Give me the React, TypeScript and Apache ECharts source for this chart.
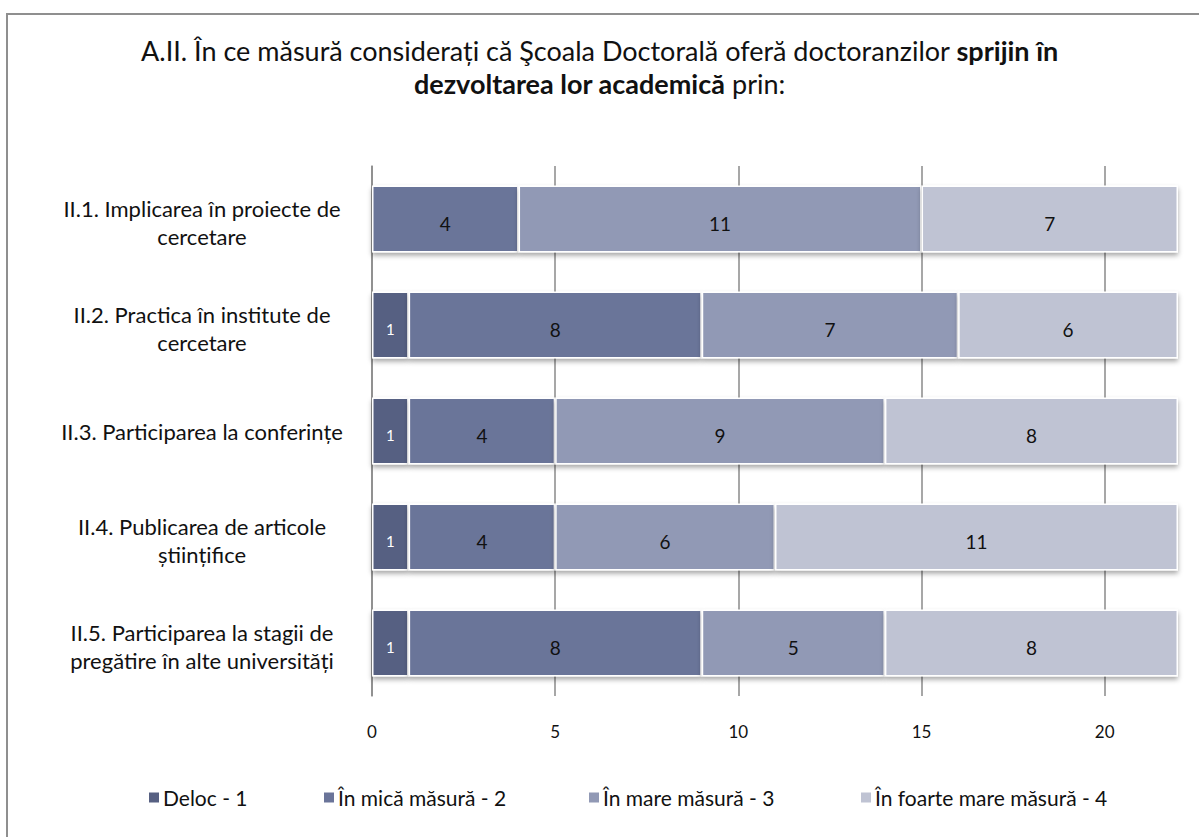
import React, { useEffect, useRef } from "react";
import * as echarts from "echarts";

const categories = [
  "II.1. Implicarea în proiecte de\ncercetare",
  "II.2. Practica în institute de\ncercetare",
  "II.3. Participarea la conferințe",
  "II.4. Publicarea de articole\nștiințifice",
  "II.5. Participarea la stagii de\npregătire în alte universități",
];
const seriesNames = ["Deloc - 1", "În mică măsură - 2", "În mare măsură - 3", "În foarte mare măsură - 4"];
const deloc = [0, 1, 1, 1, 1];
const mica = [4, 8, 4, 4, 8];
const mare = [11, 7, 9, 6, 5];
const foarteMare = [7, 6, 8, 11, 8];
const xTicks = [0, 5, 10, 15, 20];
const colors = ["#576082", "#6a7499", "#9199b5", "#bfc3d3"];
const labelColors = ["#ffffff", "#111111", "#111111", "#111111"];
const legendLeft = [142, 317, 582, 854];

const FONT = "Lato, 'Noto Sans', sans-serif";

export default function App() {
  const ref = useRef<HTMLDivElement>(null);
  useEffect(() => {
    if (!ref.current) return;
    const chart = echarts.init(ref.current, null, { renderer: "svg" });
    const values = [deloc, mica, mare, foarteMare];
    const option: any = {
      animation: false,
      backgroundColor: "transparent",
      textStyle: { fontFamily: FONT },
      title: {
        left: "center",
        top: 29,
        text:
          "A.II. În ce măsură considerați că Şcoala Doctorală oferă doctoranzilor {b|sprijin în}\n{b|dezvoltarea lor academică} prin:",
        textStyle: {
          fontFamily: FONT,
          fontSize: 27,
          fontWeight: "normal",
          color: "#111",
          lineHeight: 33,
          rich: {
            b: { fontFamily: FONT, fontSize: 27, fontWeight: "bold", color: "#111", lineHeight: 33 },
          },
        },
      },
      legend: seriesNames.map((n, i) => ({
        data: [n],
        left: legendLeft[i],
        top: 782,
        itemWidth: 12,
        itemHeight: 12,
        icon: "rect",
        textStyle: { fontFamily: FONT, fontSize: 21, color: "#111", padding: [0, 0, 0, -2] },
      })),
      grid: { left: 372, right: 21, top: 166, bottom: 141 },
      xAxis: {
        type: "value",
        min: 0,
        max: 22,
        interval: 5,
        axisLine: { show: false },
        axisTick: { show: false },
        axisLabel: {
          showMaxLabel: false,
          margin: 27,
          fontSize: 17,
          color: "#111",
          fontFamily: FONT,
          formatter: (v: number) => (xTicks.includes(v) ? String(v) : ""),
        },
        splitLine: {
          show: true,
          lineStyle: { color: ["#8a8a8a", "#8a8a8a", "#8a8a8a", "#8a8a8a", "#8a8a8a", "rgba(0,0,0,0)"], width: 1.5 },
        },
      },
      yAxis: {
        type: "category",
        inverse: true,
        data: categories,
        axisLine: { show: true, lineStyle: { color: "#8a8a8a", width: 1.5 } },
        axisTick: { show: false },
        axisLabel: {
          margin: 18,
          color: "#111",
          fontFamily: FONT,
          fontSize: 22,
          formatter: (v: string) => {
            const lines = v.split("\n");
            const st = lines.length > 1 ? "m" : "c";
            return lines.map((l) => "{" + st + "|" + l + "}").join("\n");
          },
          rich: {
            c: { width: 304, align: "center", fontSize: 22, lineHeight: 28, fontFamily: FONT, color: "#111" },
            m: { width: 304, align: "center", fontSize: 22, lineHeight: 28, fontFamily: FONT, color: "#111", padding: [6, 0, 0, 0] },
          },
        },
      },
      series: seriesNames.map((n, i) => ({
        name: n,
        type: "bar",
        stack: "total",
        barWidth: 67,
        data: values[i].map((v) => (v === 0 ? null : v)),
        itemStyle: {
          color: colors[i],
          borderColor: "#ffffff",
          borderWidth: 1.5,
          shadowColor: "rgba(0,0,0,0.35)",
          shadowBlur: 5,
          shadowOffsetY: 3,
        },
        label: {
          show: true,
          position: "inside",
          color: labelColors[i],
          fontFamily: FONT,
          fontSize: i === 0 ? 15 : 19,
          offset: [0, 4],
        },
      })),
    };
    chart.setOption(option);
    return () => chart.dispose();
  }, []);
  return (
    <>
      <div
        style={{
          position: "fixed",
          left: 6,
          top: 13,
          width: 1400,
          height: 1100,
          border: "2px solid #8f8f8f",
          pointerEvents: "none",
          background: "#fff",
        }}
      />
      <div ref={ref} style={{ position: "fixed", left: 0, top: 0, width: 1199, height: 837 }} />
    </>
  );
}
